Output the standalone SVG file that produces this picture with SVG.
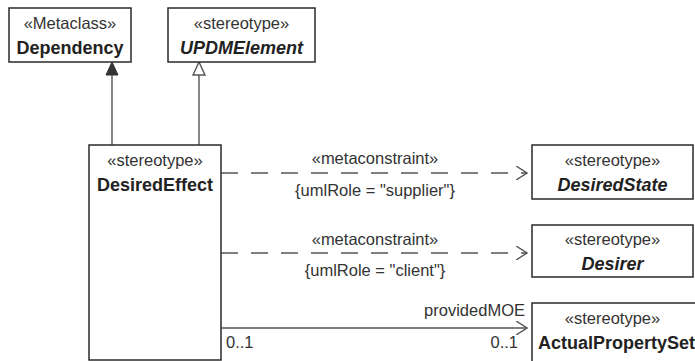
<svg xmlns="http://www.w3.org/2000/svg" width="695" height="361" viewBox="0 0 695 361">
  <style>
    .box { fill: #ffffff; stroke: #2a2a2a; stroke-width: 1.5; }
    .st { font-family: "Liberation Sans", Arial, sans-serif; font-size: 16.5px; fill: #333333; text-anchor: middle; }
    .nm { font-family: "Liberation Sans", Arial, sans-serif; font-size: 18px; font-weight: bold; fill: #222222; text-anchor: middle; }
    .it { font-style: italic; }
    .start { text-anchor: start; }
    .lbl { font-family: "Liberation Sans", Arial, sans-serif; font-size: 16.5px; fill: #333333; }
    .conn { fill: none; stroke: #555555; stroke-width: 1.4; }
    .dash { stroke-dasharray: 17 13; }
  </style>
  <defs>
    <marker id="open" viewBox="0 0 12 14" refX="11" refY="7" markerWidth="12" markerHeight="14" orient="auto" markerUnits="userSpaceOnUse">
      <path d="M0,0 L11,7 L0,14" fill="none" stroke="#555555" stroke-width="1.4" stroke-dasharray="none"/>
    </marker>
  </defs>
  <rect width="695" height="361" fill="#ffffff"/>

  <g id="connectors">
    <line class="conn" x1="112" y1="74" x2="112" y2="145"/>
    <polygon points="112,62 106,75 118,75" fill="#333333" stroke="#333333" stroke-width="1"/>
    <line class="conn" x1="199" y1="75" x2="199" y2="145"/>
    <polygon points="199,62 193,75 205,75" fill="#ffffff" stroke="#555555" stroke-width="1.4"/>

    <path class="conn dash" d="M221,173 L527,173" marker-end="url(#open)"/>
    <text class="lbl" x="375" y="164" text-anchor="middle">«metaconstraint»</text>
    <text class="lbl" x="375" y="196" text-anchor="middle">{umlRole = "supplier"}</text>

    <path class="conn dash" d="M221,253 L527,253" marker-end="url(#open)"/>
    <text class="lbl" x="375" y="245" text-anchor="middle">«metaconstraint»</text>
    <text class="lbl" x="375" y="276" text-anchor="middle">{umlRole = "client"}</text>

    <path class="conn" d="M221,328 L527,328" marker-end="url(#open)"/>
    <text class="lbl" x="525" y="316" text-anchor="end">providedMOE</text>
    <text class="lbl" x="226" y="348">0..1</text>
    <text class="lbl" x="518" y="348" text-anchor="end">0..1</text>
  </g>

  <g id="Dependency">
    <rect class="box" x="9" y="8" width="122" height="54"/>
    <text class="st" x="70" y="29">«Metaclass»</text>
    <text class="nm" x="70" y="54">Dependency</text>
  </g>

  <g id="UPDMElement">
    <rect class="box" x="168" y="8" width="147" height="54"/>
    <text class="st" x="241.5" y="29">«stereotype»</text>
    <text class="nm it" x="241.5" y="54">UPDMElement</text>
  </g>

  <g id="DesiredEffect">
    <rect class="box" x="89" y="145" width="132" height="215"/>
    <text class="st" x="155" y="166">«stereotype»</text>
    <text class="nm" x="155" y="191">DesiredEffect</text>
  </g>

  <g id="DesiredState">
    <rect class="box" x="532" y="145" width="161" height="54"/>
    <text class="st" x="612.5" y="166">«stereotype»</text>
    <text class="nm it" x="612.5" y="191">DesiredState</text>
  </g>

  <g id="Desirer">
    <rect class="box" x="532" y="225" width="161" height="52"/>
    <text class="st" x="612.5" y="245">«stereotype»</text>
    <text class="nm it" x="612.5" y="270">Desirer</text>
  </g>

  <g id="ActualPropertySet">
    <rect class="box" x="532" y="303" width="200" height="70"/>
    <text class="st" x="612.5" y="324">«stereotype»</text>
    <text class="nm start" x="538" y="349">ActualPropertySet</text>
  </g>
</svg>
